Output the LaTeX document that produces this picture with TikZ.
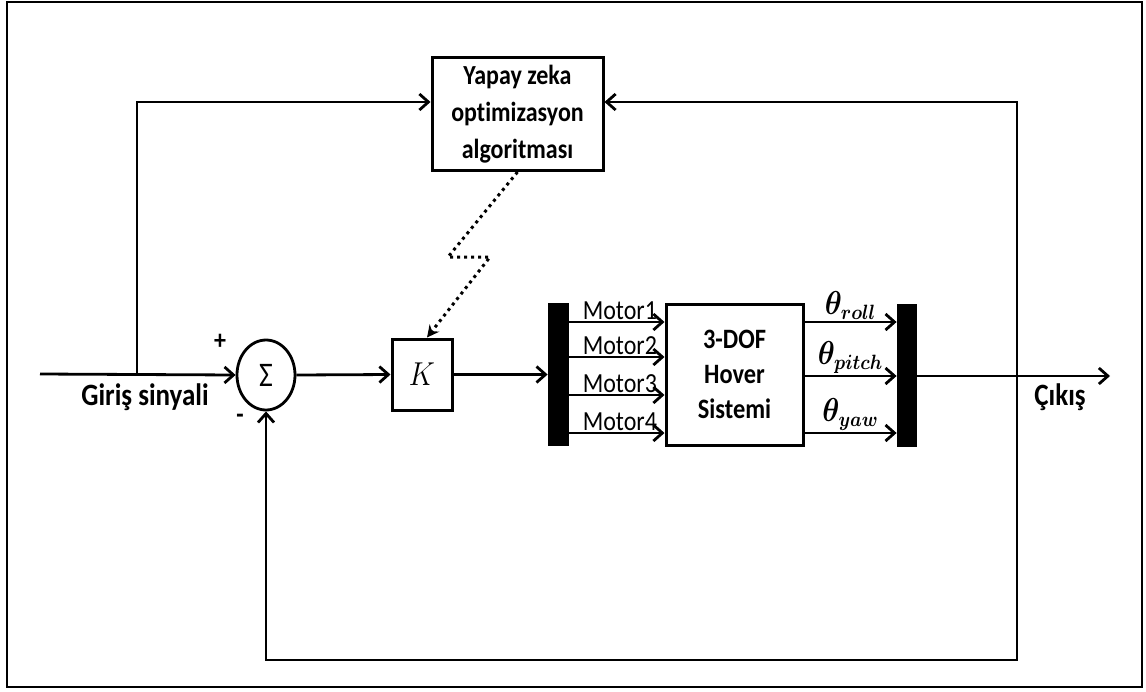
\documentclass[tikz,border=0pt]{standalone}
\usepackage{fontspec}
\setmainfont{Carlito}[Ligatures=NoCommon]
\usepackage{amsmath}
\usepackage{bm}
\usepackage{graphicx}
\usepackage{tikz}
\usetikzlibrary{shapes.geometric, arrows.meta, positioning, calc}
\definecolor{mydark}{RGB}{0,0,0}
\newcommand{\tall}[1]{\scalebox{1}[1.15]{#1}}
\tikzset{
  block/.style={rectangle, draw=mydark, fill=white, align=center,
    inner sep=0pt, line width=1.5pt},
  bar/.style={rectangle, fill=mydark, inner sep=0pt,
    minimum width=10.5pt, minimum height=71.5pt},
  sumnode/.style={ellipse, draw=mydark, line width=1.4pt, inner sep=0pt,
    minimum width=29pt, minimum height=35pt},
  arrow/.style={-{Straight Barb[length=4.5pt,width=8pt,line width=1.4pt]}, line width=1.4pt, color=mydark},
  dotarrow/.style={-{Stealth[length=6pt,width=6pt]}, dotted, line width=1.5pt, color=mydark},
  lbl/.style={font=\fontsize{12}{14}\selectfont, inner sep=1pt}
}

\begin{document}
\begin{tikzpicture}[x=0.5pt, y=-0.5pt]
    \useasboundingbox (0,0) rectangle (1146,691);
    \draw[line width=1.1pt] (7,2) rectangle (1142,687);

    % blocks
    \node[block, minimum width=85.5pt, minimum height=56.5pt,
      font=\fontsize{12}{18.5}\selectfont\bfseries] (algo) at (517.5,114)
      {\tall{Yapay zeka}\\\tall{optimizasyon}\\\tall{algoritması}};
    \node[sumnode] (sum) at (266,375) {\fontsize{15}{17}\selectfont\tall{Σ}};
    \node[block, minimum width=30pt, minimum height=35.5pt,
      font=\fontsize{15}{17}\selectfont] (K) at (422,374.5) {\tall{$K$}};
    \node[bar] (lbar) at (558.5,374.5) {};
    \node[block, minimum width=68.5pt, minimum height=70.5pt,
      font=\fontsize{12.2}{17.5}\selectfont\bfseries] (hover) at (734.5,374.5)
      {\tall{3-DOF}\\\tall{Hover}\\\tall{Sistemi}};
    \node[bar, minimum width=10pt] (rbar) at (907,375) {};

    % labels
    \node[font=\fontsize{13.5}{15}\selectfont\bfseries] (giris) at (145,397) {\tall{Giriş sinyali}};
    \node[font=\fontsize{13.5}{15}\selectfont\bfseries] (cikis) at (1060,397) {\tall{Çıkış}};
    \node[font=\fontsize{12}{13}\selectfont\bfseries] (plus) at (220,342) {\tall{+}};
    \node[font=\fontsize{12}{13}\selectfont\bfseries] (minus) at (240,419) {\tall{-}};

    % main path
    \coordinate (in) at (40,374);
    \coordinate (split) at (137,374);
    \coordinate (fb) at (1017,376);
    \coordinate (fbcorner) at (1017,660);
    \coordinate (out) at (1110,376);
    \draw[arrow] (in) -- (sum.west);
    \draw[arrow] (split) |- ([yshift=6pt]algo.west);
    \draw[arrow] (sum.east) -- (K.west);
    \draw[arrow] (K.east) -- (lbar.west |- K.east);

    % motors
    \foreach \y/\i in {322/1, 357/2, 395/3, 433/4} {
      \draw[arrow] (lbar.east |- 0,\y) -- (hover.west |- 0,\y);
      \node[lbl, anchor=south west] (m\i) at ([xshift=5.5pt]lbar.east |- 0,\y) {\tall{Motor\i}};
    }

    % outputs
    \foreach \y/\s/\n in {322/roll/1, 376/pitch/2, 433/yaw/3} {
      \draw[arrow] (hover.east |- 0,\y) -- (rbar.west |- 0,\y);
      \node[lbl, anchor=south, font=\fontsize{13.5}{15}\selectfont] (th\n) at ($(hover.east |- 0,\y)!0.5!(rbar.west |- 0,\y)$) {\tall{$\bm{\theta_{\s}}$}};
    }
    \draw[arrow] (rbar.east |- out) -- (out);

    % feedback
    \draw[arrow] (fb) |- ([yshift=6pt]algo.east);
    \draw[arrow] (fb) -- (fbcorner) -| (sum.south);

    % tuning link
    \draw[dotarrow] (algo.south) -- (448,257) -- (490,257) -- ([xshift=2.5pt]K.north);
  \end{tikzpicture}
\end{document}
